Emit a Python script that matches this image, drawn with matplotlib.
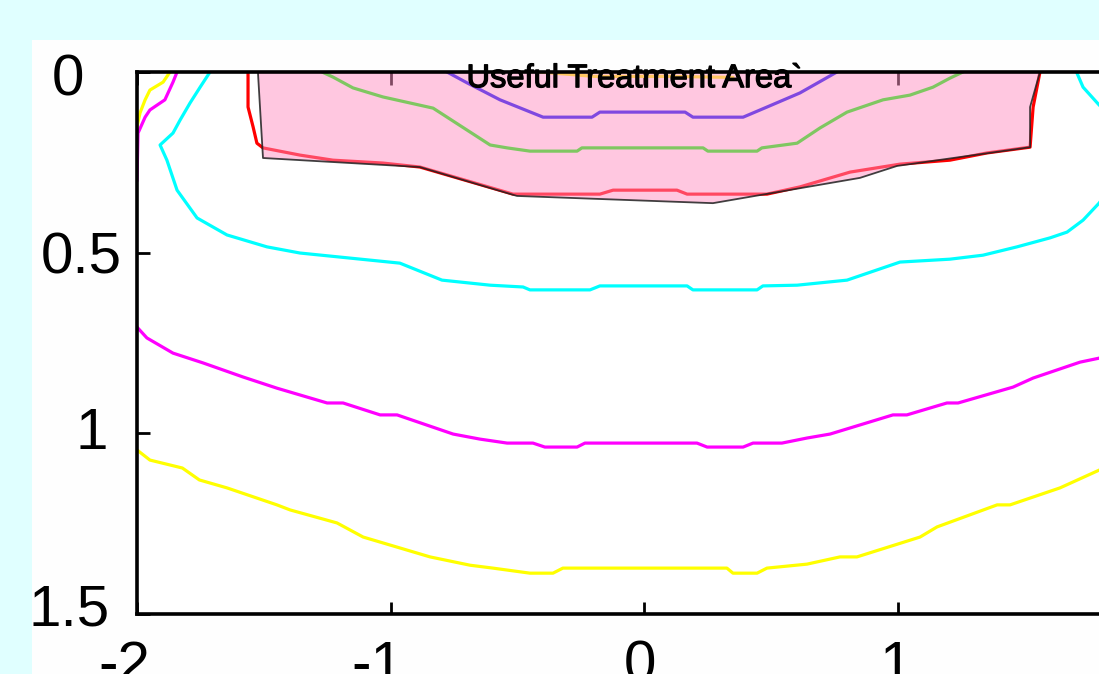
import matplotlib
matplotlib.use("Agg")
import matplotlib.pyplot as plt
import matplotlib.patheffects as pe
from matplotlib.patches import Rectangle, Polygon

# dose contours (x lateral, y depth), outermost to innermost
yellow_x = [-2.0, -1.949, -1.821, -1.754, -1.645, -1.448, -1.396, -1.211, -1.108, -0.844,
            -0.686, -0.596, -0.450, -0.359, -0.320, 0.327, 0.351, 0.446, 0.485, 0.643,
            0.773, 0.840, 1.089, 1.156, 1.393, 1.444, 1.641, 1.795, 2.0]
yellow_y = [1.046, 1.074, 1.096, 1.129, 1.151, 1.198, 1.212, 1.248, 1.287, 1.342,
            1.365, 1.373, 1.387, 1.387, 1.373, 1.373, 1.387, 1.387, 1.373, 1.362,
            1.342, 1.342, 1.287, 1.259, 1.198, 1.198, 1.151, 1.102, 1.040]

magenta_x = [-2.0, -1.961, -1.858, -1.740, -1.582, -1.448, -1.250, -1.187, -1.041, -0.974,
             -0.753, -0.647, -0.540, -0.438, -0.391, -0.264, -0.233, 0.209, 0.249, 0.391,
             0.430, 0.544, 0.643, 0.734, 0.982, 1.037, 1.195, 1.239, 1.456, 1.535,
             1.720, 1.795, 2.0]
magenta_y = [0.706, 0.736, 0.778, 0.805, 0.844, 0.875, 0.916, 0.916, 0.949, 0.949,
             1.002, 1.016, 1.027, 1.027, 1.038, 1.038, 1.027, 1.027, 1.038, 1.038,
             1.027, 1.027, 1.013, 1.002, 0.949, 0.949, 0.916, 0.916, 0.872, 0.847,
             0.803, 0.792, 0.720]

# corner pieces near the surface on the left edge
yellow_top_x = [-1.870, -1.897, -1.949, -1.968, -1.988, -2.0, -2.0]
yellow_top_y = [0.0, 0.028, 0.050, 0.077, 0.113, 0.152, 0.230]
magenta_top_x = [-1.842, -1.858, -1.890, -1.949, -1.968, -1.996, -2.0]
magenta_top_y = [0.0, 0.028, 0.077, 0.105, 0.125, 0.169, 0.299]

cyan_x = [-1.712, -1.751, -1.791, -1.830, -1.858, -1.909, -1.882, -1.842, -1.763, -1.645,
          -1.487, -1.357, -1.160, -0.963, -0.797, -0.607, -0.477, -0.450, -0.213, -0.174,
          0.170, 0.193, 0.446, 0.469, 0.604, 0.801, 1.010, 1.207, 1.337, 1.471,
          1.602, 1.669, 1.732, 1.795, 1.878, 1.897, 1.838, 1.795, 1.732, 1.708]
cyan_y = [0.0, 0.042, 0.086, 0.133, 0.169, 0.202, 0.244, 0.327, 0.404, 0.451,
          0.484, 0.501, 0.515, 0.529, 0.576, 0.590, 0.595, 0.603, 0.603, 0.592,
          0.592, 0.603, 0.603, 0.592, 0.590, 0.576, 0.526, 0.518, 0.507, 0.484,
          0.459, 0.443, 0.410, 0.363, 0.285, 0.188, 0.119, 0.091, 0.042, 0.003]

red_x = [-1.562, -1.562, -1.542, -1.527, -1.503, -1.357, -1.227, -1.030, -0.884, -0.517,
         -0.174, -0.122, 0.130, 0.170, 0.485, 0.615, 0.813, 1.010, 1.207, 1.353,
         1.523, 1.535, 1.562]
red_y = [0.0, 0.097, 0.152, 0.197, 0.210, 0.230, 0.244, 0.252, 0.263, 0.338,
         0.338, 0.327, 0.327, 0.338, 0.338, 0.318, 0.277, 0.255, 0.244, 0.224,
         0.208, 0.097, 0.0]

green_x = [-1.270, -1.227, -1.148, -1.030, -0.832, -0.607, -0.540, -0.450, -0.264, -0.245,
           0.233, 0.252, 0.446, 0.465, 0.604, 0.694, 0.801, 0.943, 1.049, 1.140,
           1.207, 1.258]
green_y = [0.0, 0.014, 0.044, 0.069, 0.100, 0.202, 0.210, 0.219, 0.219, 0.210,
           0.210, 0.219, 0.219, 0.210, 0.197, 0.155, 0.111, 0.077, 0.064, 0.042,
           0.017, 0.0]

blue_x = [-0.777, -0.698, -0.568, -0.398, -0.205, -0.174, 0.162, 0.193, 0.391, 0.485,
          0.615, 0.761]
blue_y = [0.0, 0.030, 0.077, 0.125, 0.125, 0.111, 0.111, 0.125, 0.125, 0.097,
          0.058, 0.0]

surface_x = [-0.41, -0.2, 0.1, 0.35]
surface_y = [0.0, 0.012, 0.012, 0.015]

# useful treatment area outline
area_x = [-1.523, -1.503, -0.884, -0.501, 0.272, 0.852, 0.998, 1.523, 1.523, 1.562]
area_y = [0.0, 0.238, 0.263, 0.343, 0.363, 0.293, 0.260, 0.208, 0.097, 0.0]

xticks = [-2, -1, 0, 1, 2]
xtick_labels = ['-2', '-1', '0', '1', '2']
yticks = [0, 0.5, 1, 1.5]
ytick_labels = ['0', '0.5', '1', '1.5']

label_font = ['Liberation Sans', 'DejaVu Sans']

fig = plt.figure(figsize=(10.99, 6.74), dpi=100)
fig.patch.set_facecolor('#e0ffff')
fig.add_artist(Rectangle((32 / 1099, 0), 1.0, 1 - 40 / 674, transform=fig.transFigure,
                         facecolor='#fefefe', edgecolor='none', zorder=0))

ax = fig.add_axes([137 / 1099, 1 - 614 / 674, 1014 / 1099, 542 / 674])
ax.set_facecolor('white')
ax.set_xlim(-2, 2)
ax.set_ylim(1.5, 0)

lw = 2.3
ax.plot(yellow_x, yellow_y, color='#ffff00', lw=lw)
ax.plot(yellow_top_x, yellow_top_y, color='#ffff00', lw=lw)
ax.plot(magenta_x, magenta_y, color='#ff00ff', lw=lw)
ax.plot(magenta_top_x, magenta_top_y, color='#ff00ff', lw=lw)
ax.plot(cyan_x, cyan_y, color='#00ffff', lw=lw)
ax.plot(red_x, red_y, color='#ff0000', lw=lw)
ax.plot(green_x, green_y, color='#00ff00', lw=lw)
ax.plot(blue_x, blue_y, color='#0000ff', lw=lw)
ax.plot(surface_x, surface_y, color='#ffff00', lw=lw)

# translucent pink area laid over the contours
pts = list(zip(area_x, area_y))
ax.add_patch(Polygon(pts, closed=True, facecolor='#ff91c3', alpha=0.5,
                     edgecolor='none', zorder=3))
ax.plot(area_x, area_y, color='#202020', lw=1.3, alpha=0.85, zorder=4)

ax.text(-0.039, 0.042, 'Useful Treatment Area`', ha='center', va='baseline',
        fontsize=23.5, family=label_font, zorder=5,
        path_effects=[pe.withStroke(linewidth=0.9, foreground='black')])

for s in ax.spines.values():
    s.set_linewidth(2.6)
    s.set_zorder(6)

ax.set_xticks(xticks)
ax.set_yticks(yticks)
ax.tick_params(direction='in', length=9, width=2, top=True, right=True,
               labelbottom=False, labelleft=False)

# hand-placed tick labels
xlab_dx = [-13, -13, -4, -2, 0]
for t, lab, dx in zip(xticks, xtick_labels, xlab_dx):
    ax.annotate(lab, xy=(t, 0), xycoords=('data', 'axes fraction'),
                xytext=(dx, -68), textcoords='offset pixels',
                ha='center', va='baseline', fontsize=42, family=label_font,
                annotation_clip=False)

ylab_dx = [-69, -56, -45, -68]
ylab_dy = [-24, -21, -16, -12]
for t, lab, dx, dy in zip(yticks, ytick_labels, ylab_dx, ylab_dy):
    ax.annotate(lab, xy=(0, t), xycoords=('axes fraction', 'data'),
                xytext=(dx, dy), textcoords='offset pixels',
                ha='center', va='baseline', fontsize=42, family=label_font,
                annotation_clip=False)

fig.savefig('out.png', dpi=100, facecolor=fig.get_facecolor())
